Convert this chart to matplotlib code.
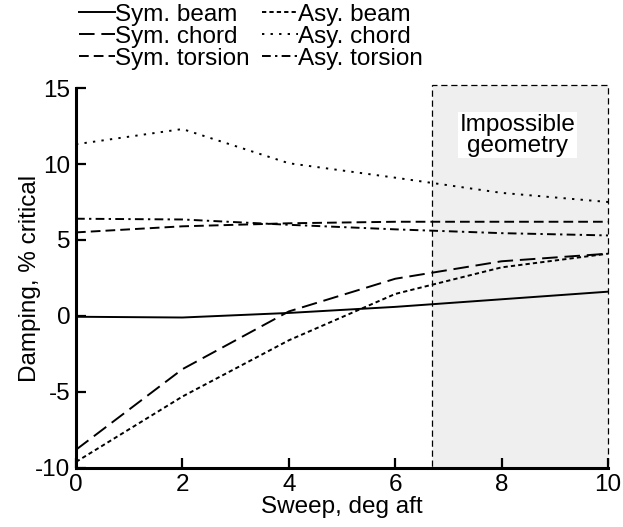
import matplotlib
matplotlib.use("Agg")
import matplotlib.pyplot as plt
from matplotlib.patches import Rectangle

plt.rcParams['font.family'] = ['Liberation Sans', 'DejaVu Sans']
plt.rcParams['axes.unicode_minus'] = False

sweep = [0, 2, 4, 6, 8, 10]
sym_beam = [-0.05, -0.1, 0.2, 0.6, 1.1, 1.6]
sym_chord = [-8.8, -3.5, 0.3, 2.45, 3.6, 4.1]
sym_torsion = [5.5, 5.9, 6.1, 6.2, 6.2, 6.2]
asy_beam = [-9.6, -5.3, -1.6, 1.45, 3.2, 4.1]
asy_chord = [11.3, 12.3, 10.05, 9.1, 8.1, 7.5]
asy_torsion = [6.4, 6.35, 6.0, 5.7, 5.45, 5.3]

impossible_from = 6.7

lw = 1.4
fs = 17.5
fig = plt.figure(figsize=(6.23, 5.27), dpi=100)
ax = fig.add_axes([0.122, 0.112, 0.854, 0.721])

series = [
    (sym_beam, "Sym. beam", "-"),
    (sym_chord, "Sym. chord", (0, (8, 3.5))),
    (sym_torsion, "Sym. torsion", (0, (5, 2.6))),
    (asy_beam, "Asy. beam", (0, (2.2, 1.6))),
    (asy_chord, "Asy. chord", (0, (1.2, 3.2))),
    (asy_torsion, "Asy. torsion", (0, (4.5, 2.2, 1.2, 2.2))),
]
for vals, label, ls in series:
    ax.plot(sweep, vals, color="black", lw=lw, linestyle=ls, label=label,
            zorder=3)

ax.set_xlim(0, 10)
ax.set_ylim(-10, 15)

# shaded region
rect = Rectangle((impossible_from, -10), 10 - impossible_from, 25.2,
                 facecolor="#efefef", edgecolor="black", lw=0.9,
                 linestyle=(0, (5, 3)), clip_on=False, zorder=1)
ax.add_patch(rect)
ax.text(8.3, 11.9, "Impossible\ngeometry", ha="center", va="center",
        fontsize=fs, linespacing=0.95, zorder=4,
        bbox=dict(facecolor="white", edgecolor="none", pad=1))

ax.set_xticks([0, 2, 4, 6, 8, 10])
ax.set_yticks([-10, -5, 0, 5, 10, 15])
ax.tick_params(direction="in", length=7, width=1.6, labelsize=fs, pad=4)
for s in ["top", "right"]:
    ax.spines[s].set_visible(False)
for s in ["left", "bottom"]:
    ax.spines[s].set_linewidth(2.2)

ax.set_xlabel("Sweep, deg aft", fontsize=fs, labelpad=0)
ax.set_ylabel("Damping, % critical", fontsize=fs, labelpad=-4)

fig.legend(loc="upper left", bbox_to_anchor=(0.099, 1.025), ncols=2,
           frameon=False, fontsize=fs, handlelength=1.5, handletextpad=0.0,
           columnspacing=0.5, labelspacing=0.0, borderpad=0.2)

fig.savefig("out.png", dpi=100)
